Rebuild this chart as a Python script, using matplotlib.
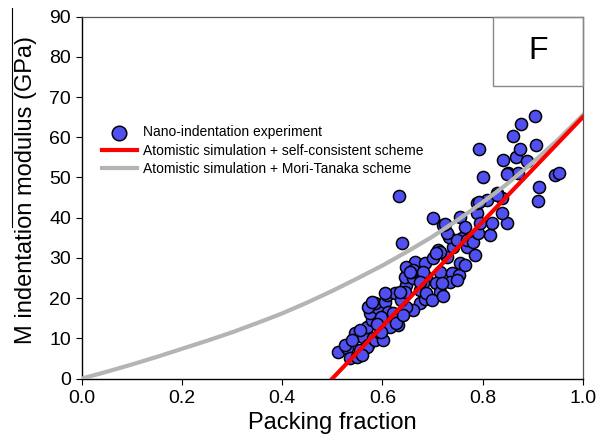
# %%
import matplotlib

matplotlib.use("Agg")
import matplotlib.pyplot as plt
from matplotlib.lines import Line2D
from matplotlib.patches import Rectangle

plt.rcParams["font.family"] = ["Liberation Sans", "DejaVu Sans"]

# %%
## Nano-indentation experiment (packing fraction, modulus in GPa)
exp_phi = [
    0.512, 0.529, 0.535, 0.549, 0.525, 0.545, 0.555, 0.562, 0.572, 0.569,
    0.569, 0.582, 0.585, 0.579, 0.575, 0.592, 0.585, 0.605, 0.609, 0.625,
    0.612, 0.598, 0.628, 0.632, 0.595, 0.615, 0.602, 0.598, 0.572, 0.579,
    0.605, 0.622, 0.628, 0.590, 0.556, 0.540, 0.560,
    0.648, 0.645, 0.662, 0.675, 0.675, 0.662, 0.648, 0.638, 0.685, 0.688,
    0.642, 0.681, 0.658, 0.652, 0.665, 0.685, 0.648, 0.662, 0.681, 0.715,
    0.738, 0.752, 0.675, 0.708, 0.735, 0.645, 0.688, 0.715, 0.635, 0.655,
    0.702, 0.728, 0.755, 0.765, 0.711, 0.715, 0.741, 0.768, 0.785, 0.732,
    0.758, 0.748, 0.768, 0.781, 0.815, 0.791, 0.728, 0.748, 0.718, 0.708,
    0.700, 0.720,
    0.702, 0.721, 0.755, 0.765, 0.788, 0.795, 0.818, 0.848, 0.838, 0.788,
    0.808, 0.793, 0.828, 0.838, 0.828, 0.800, 0.851, 0.871, 0.849, 0.945,
    0.953, 0.913, 0.911, 0.841, 0.866, 0.889, 0.793, 0.875, 0.907, 0.860,
    0.876, 0.905, 0.640, 0.634, 0.725,
]
exp_modulus = [
    6.7, 7.5, 5.0, 5.4, 8.3, 11.2, 7.1, 10.4, 8.3, 7.9,
    12.9, 10.0, 9.6, 14.6, 16.2, 17.5, 18.7, 19.1, 20.8, 21.2,
    16.6, 15.4, 14.6, 13.3, 11.2, 12.9, 9.6, 11.6, 17.9, 19.1,
    21.2, 16.2, 13.7, 13.5, 12.0, 9.5, 5.8,
    23.3, 25.3, 24.9, 22.0, 18.7, 17.0, 17.9, 19.5, 19.9, 25.3,
    15.8, 23.7, 26.6, 27.4, 29.1, 28.7, 27.8, 27.0, 26.6, 26.6,
    26.2, 25.7, 24.1, 23.7, 24.1, 21.6, 21.2, 21.6, 21.6, 26.6,
    29.9, 30.3, 28.7, 28.2, 32.0, 31.5, 32.8, 32.8, 30.7, 35.3,
    34.9, 34.5, 34.5, 34.0, 35.7, 36.1, 36.1, 24.5, 23.7, 31.1,
    19.5, 20.5,
    39.9, 38.2, 40.1, 37.8, 41.1, 38.6, 38.6, 38.6, 41.1, 43.6,
    44.4, 44.0, 46.1, 44.8, 45.6, 50.2, 51.0, 51.0, 50.9, 50.6,
    51.0, 47.7, 44.2, 54.4, 55.2, 54.2, 57.0, 57.1, 58.1, 60.4,
    63.3, 65.4, 33.8, 45.5, 38.4,
]

## Atomistic simulation + self-consistent scheme
sc_phi = [0.5, 0.6, 0.7, 0.8, 0.9, 1.0]
sc_modulus = [0.0, 13.0, 26.0, 39.0, 52.0, 65.0]

## Atomistic simulation + Mori-Tanaka scheme
mt_phi = [0.0, 0.05, 0.1, 0.15, 0.2, 0.25, 0.3, 0.35, 0.4, 0.45, 0.5,
          0.55, 0.6, 0.65, 0.7, 0.75, 0.8, 0.85, 0.9, 0.95, 1.0]
mt_modulus = [0.0, 1.7, 3.5, 5.4, 7.4, 9.4, 11.5, 13.8, 16.2, 18.9, 21.8,
              24.9, 28.1, 31.6, 35.3, 39.4, 43.8, 48.5, 53.7, 59.3, 65.5]

# %%
fig = plt.figure(figsize=(5.97, 4.47), dpi=100)
ax = fig.add_axes([82 / 597, 1 - 378.5 / 447, 500.7 / 597, 361.8 / 447])

ax.scatter(
    exp_phi, exp_modulus, s=76, color="#5050f2", edgecolors="black",
    linewidths=1.1, zorder=2, label="Nano-indentation experiment",
)
ax.plot(sc_phi, sc_modulus, color="#ff0000", lw=3,
        label="Atomistic simulation + self-consistent scheme", zorder=4)
ax.plot(mt_phi, mt_modulus, color="#b4b4b4", lw=3,
        label="Atomistic simulation + Mori-Tanaka scheme", zorder=3)

ax.set_xlim(0, 1.0)
ax.set_ylim(0, 90)
ax.set_xticks([0.0, 0.2, 0.4, 0.6, 0.8, 1.0])
ax.set_xticklabels(["0.0", "0.2", "0.4", "0.6", "0.8", "1.0"])
ax.set_yticks(range(0, 91, 10))
ax.tick_params(direction="out", length=4, width=0.8, labelsize=14, pad=4,
               top=False, right=False)

for side in ["left", "bottom"]:
    ax.spines[side].set_linewidth(1.0)
for side in ["top", "right"]:
    ax.spines[side].set_linewidth(0.9)
    ax.spines[side].set_color("#555555")

ax.set_xlabel("Packing fraction", fontsize=17, labelpad=4)
ax.set_ylabel("M indentation modulus (GPa)", fontsize=17)
ax.yaxis.set_label_coords(-0.089, 0.522)

leg = ax.legend(
    loc="upper left", bbox_to_anchor=(20 / 500.7, 1 - 108.5 / 361.8),
    frameon=False, fontsize=10, handlelength=2.5, handletextpad=0.45,
    labelspacing=0.32, borderpad=0, borderaxespad=0, markerscale=1.2,
)

# panel tag box
ax.add_patch(Rectangle((0.82, 72.7), 0.18, 17.3, fill=False, ec="#888888",
                       lw=1.0, clip_on=False, zorder=5))
ax.text(0.91, 81.4, "F", ha="center", va="center", fontsize=23, zorder=6)

# stray bar next to the y label
fig.add_artist(Line2D([12.3 / 597, 12.3 / 597], [1 - 8 / 447, 1 - 227 / 447],
                      color="black", lw=0.8, transform=fig.transFigure))

fig.savefig("out.png", dpi=100)
